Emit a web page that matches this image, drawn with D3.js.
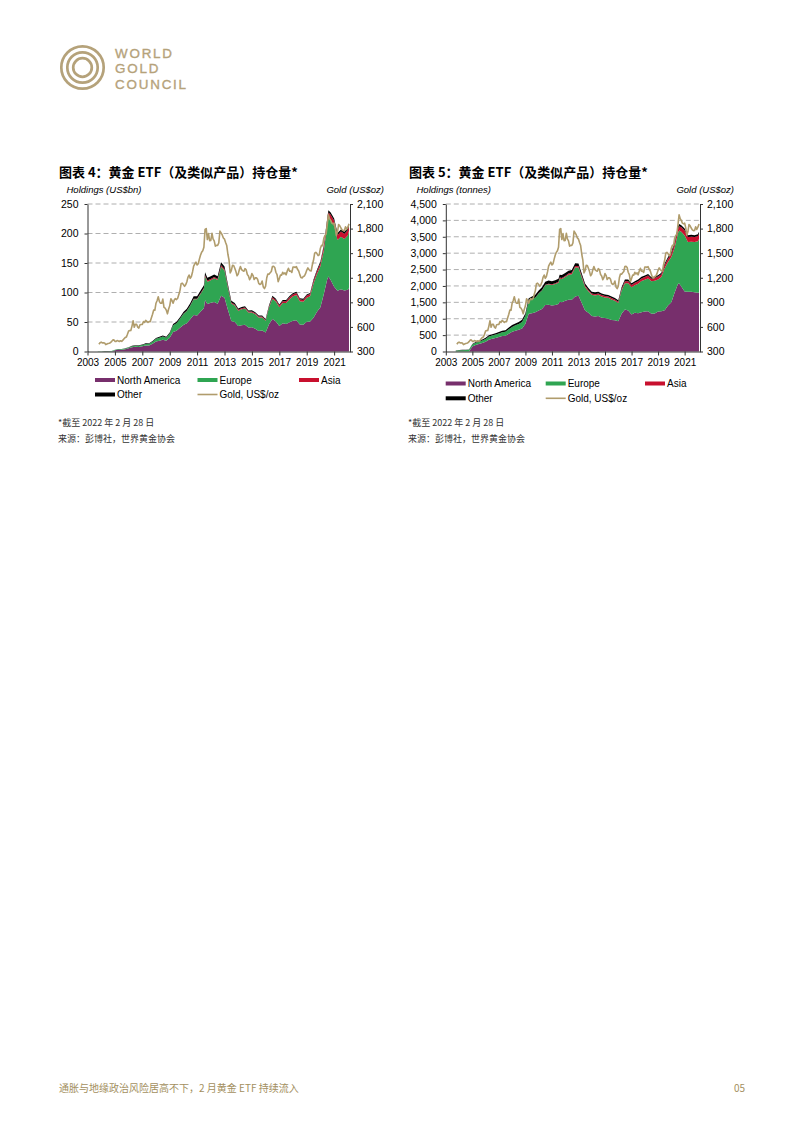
<!DOCTYPE html>
<html>
<head>
<meta charset="utf-8">
<script src="https://cdnjs.cloudflare.com/ajax/libs/d3/7.8.5/d3.min.js"></script>
<style>
  body { margin: 0; background: #fff; }
  svg { display: block; }
</style>
</head>
<body>
<svg width="802" height="1133"></svg>
<script>
// ---- data ----
const qDates = ['2003-10','2004-01','2004-04','2004-07','2004-10','2005-01','2005-04','2005-07','2005-10',
  '2006-01','2006-04','2006-07','2006-10','2007-01','2007-04','2007-07','2007-10','2008-01','2008-04','2008-07','2008-10',
  '2009-01','2009-04','2009-07','2009-10','2010-01','2010-04','2010-07','2010-10','2011-01','2011-04','2011-07','2011-08','2011-10',
  '2012-01','2012-04','2012-07','2012-10','2013-01','2013-04','2013-07','2013-10','2014-01','2014-04','2014-07','2014-10',
  '2015-01','2015-04','2015-07','2015-10','2016-01','2016-04','2016-07','2016-10','2017-01','2017-04','2017-07','2017-10',
  '2018-01','2018-04','2018-07','2018-10','2019-01','2019-04','2019-07','2019-10','2020-01','2020-04','2020-07','2020-08','2020-10',
  '2021-01','2021-04','2021-07','2021-10','2022-01','2022-02'];

// holdings, tonnes
const naTonnes = [0,0,0,0,0,150,200,230,260,300,360,390,410,440,470,480,540,600,630,660,700,
  850,1150,1170,1200,1250,1300,1420,1430,1400,1420,1450,1520,1500,1550,1580,1580,1680,1700,1480,1250,1180,
  1080,1070,1080,1030,1020,1000,960,950,920,1150,1280,1250,1130,1180,1170,1200,1220,1230,1150,1160,
  1220,1230,1260,1400,1500,1800,2060,2080,1980,1830,1820,1820,1810,1790,1800];
const euTonnes = [25,35,40,45,50,60,65,70,75,85,95,100,105,110,120,125,140,150,170,180,200,
  250,400,430,450,520,560,600,620,630,640,650,700,710,720,760,780,880,860,780,720,660,
  650,640,650,650,630,640,630,600,560,710,800,830,830,840,900,950,970,1000,990,1000,
  980,1040,1280,1330,1380,1370,1550,1610,1670,1710,1520,1530,1530,1575,1630];
const asiaTonnes = [0,0,0,0,0,0,0,0,0,0,0,0,0,0,0,0,0,0,0,0,0,
  0,0,0,0,5,10,15,20,20,25,30,35,35,35,40,40,45,45,45,40,40,
  40,40,40,40,40,40,40,40,40,50,60,65,70,75,75,80,80,85,80,80,
  85,85,95,100,105,115,130,135,140,150,150,150,150,155,160];
const otherTonnes = [5,8,10,10,12,20,25,25,30,35,40,40,40,45,45,45,50,55,55,60,65,
  70,75,80,80,85,90,95,95,95,90,90,90,90,90,85,85,85,80,75,65,60,
  55,55,50,50,50,45,45,45,45,50,55,55,50,50,50,50,50,50,45,45,
  45,45,50,50,55,60,65,65,65,65,60,60,60,60,60];

// holdings, US$bn
const naUsd = [0,0,0,0,0,2.0,2.8,3.1,3.9,5.3,7.1,7.9,7.7,8.9,10.3,10.3,13.1,17.1,18.4,19.9,18.1,
  23.4,32.9,35.1,40.2,44.9,48.0,54.5,61.7,61.0,67.3,73.3,87.0,80.3,82.5,83.8,81.0,94.4,91.3,70.8,51.7,49.9,
  43.2,44.7,45.5,40.5,41.0,38.5,34.9,35.4,32.4,46.0,55.0,50.9,43.3,48.0,46.5,49.4,52.2,52.8,45.8,45.3,
  50.6,50.8,57.2,67.3,75.2,97.3,122.3,127.0,121.0,109.9,103.0,105.7,103.4,104.6,107.4];
const euUsd = [0.3,0.47,0.52,0.58,0.68,0.8,0.9,0.95,1.1,1.5,1.9,2.0,2.0,2.2,2.6,2.7,3.4,4.3,5.0,5.4,5.2,
  6.9,11.4,12.9,15.1,18.7,20.7,23.0,26.8,27.5,30.3,32.9,40.1,38.0,38.3,40.3,40.0,49.4,46.2,37.3,29.8,27.9,
  26.0,26.7,27.4,25.5,25.3,24.7,22.9,22.4,19.8,28.4,34.4,33.8,31.8,34.2,35.8,39.1,41.5,42.9,39.4,39.1,
  40.7,43.0,58.2,63.9,69.2,74.0,92.0,100.0,102.0,102.7,86.0,88.9,87.4,92.0,97.3];
const asiaUsd = [0,0,0,0,0,0,0,0,0,0,0,0,0,0,0,0,0,0,0,0,0,
  0,0,0,0,0.2,0.4,0.6,0.9,0.9,1.2,1.5,2.0,1.9,1.9,2.1,2.0,2.5,2.4,2.2,1.7,1.7,
  1.6,1.7,1.7,1.6,1.6,1.5,1.5,1.5,1.4,2.0,2.6,2.6,2.7,3.1,3.0,3.3,3.4,3.6,3.2,3.1,
  3.5,3.5,4.3,4.8,5.3,6.2,7.7,8.5,8.6,9.0,8.5,8.7,8.6,9.1,9.5];
const otherUsd = [0.06,0.11,0.13,0.13,0.16,0.27,0.34,0.34,0.45,0.6,0.8,0.8,0.75,0.9,1.0,1.0,1.2,1.6,1.6,1.8,1.7,
  1.9,2.1,2.4,2.7,3.1,3.3,3.6,4.1,4.1,4.3,4.5,5.2,4.8,4.8,4.5,4.4,4.8,4.3,3.6,2.7,2.5,
  2.2,2.3,2.1,2.0,2.0,1.7,1.6,1.7,1.6,2.0,2.4,2.2,1.9,2.0,2.0,2.1,2.1,2.1,1.8,1.8,
  1.9,1.9,2.3,2.4,2.8,3.2,3.9,4.0,4.0,3.9,3.4,3.5,3.4,3.5,3.6];

// gold price, US$/oz, monthly from Nov 2003
const goldStart = '2003-11';
const goldPrice = [389,407,
  414,405,406,404,384,392,398,400,406,420,439,442,
  424,423,434,429,422,431,424,438,456,470,476,510,
  549,555,557,610,676,596,633,632,598,586,627,629,
  631,665,655,679,667,655,665,665,712,754,806,803,
  889,922,968,909,888,889,939,839,829,806,760,816,
  858,943,924,890,928,946,934,949,996,1043,1127,1134,
  1118,1095,1113,1148,1205,1233,1193,1215,1271,1343,1370,1391,
  1356,1372,1424,1474,1510,1529,1572,1790,1800,1666,1739,1652,
  1656,1743,1674,1650,1585,1596,1594,1626,1770,1747,1722,1685,
  1671,1628,1593,1487,1414,1260,1286,1351,1349,1316,1275,1225,
  1244,1300,1336,1299,1287,1279,1311,1296,1239,1222,1176,1201,
  1251,1227,1179,1198,1199,1181,1131,1117,1125,1159,1086,1068,
  1097,1200,1246,1243,1260,1276,1337,1341,1326,1267,1238,1152,
  1192,1234,1231,1266,1246,1260,1236,1283,1315,1280,1283,1265,
  1331,1331,1325,1335,1303,1282,1238,1202,1198,1215,1221,1250,
  1291,1320,1301,1286,1284,1359,1413,1500,1510,1495,1471,1480,
  1560,1597,1592,1681,1716,1732,1846,1968,1921,1900,1866,1858,
  1867,1808,1718,1760,1850,1834,1807,1785,1775,1777,1821,1790,
  1817,1856];

const yearLabels = [2003,2005,2007,2009,2011,2013,2015,2017,2019,2021];
const goldTicks = [300,600,900,1200,1500,1800,2100];
const seriesKeys = ['na','eu','asia','other'];
const seriesNames = ['North America','Europe','Asia','Other'];
const colors = {na:'#772f6c', eu:'#2fa552', asia:'#c8102e', other:'#000000', gold:'#b09c6c'};

// ---- setup ----
const svg = d3.select('svg');
const parse = d3.timeParse('%Y-%m');
const latin = '"Liberation Sans", Arial, sans-serif';
const cjk = '"Noto Sans CJK SC", sans-serif';
const goldStartDate = parse(goldStart);
const goldData = goldPrice.map((p,i) => ({date: d3.timeMonth.offset(goldStartDate, i), price: p}));

svg.append('rect').attr('width',802).attr('height',1133).attr('fill','#fff');

// logo
const logo = svg.append('g').attr('fill','none').attr('stroke','#b5a27a').attr('stroke-width',2.7);
[21.2,15.2,9.3].forEach(r => logo.append('circle').attr('cx',82.5).attr('cy',67.5).attr('r',r));
['WORLD','GOLD','COUNCIL'].forEach((t,i) => {
  svg.append('text').attr('x',115).attr('y',57.5+i*15.5).text(t)
    .attr('fill','#b5a27a').attr('stroke','#b5a27a').attr('stroke-width',0.35)
    .attr('font-family',latin).attr('font-size',13.4).attr('letter-spacing',1.8);
});

const panel = (cfg) => {
  const g = svg.append('g');
  const x = d3.scaleTime().domain([new Date(2003,0,1), new Date(2022,1,28)]).range([cfg.x0, cfg.x1]);
  const y = d3.scaleLinear().domain([0, cfg.leftMax]).range([cfg.yBot, cfg.yTop]);
  const yR = d3.scaleLinear().domain([300, 2100]).range([cfg.yBot, cfg.yTop]);

  // title + axis titles
  g.append('text').attr('x',cfg.titleX).attr('y',176.5).text(cfg.title)
    .attr('font-family',cjk).attr('font-weight',700).attr('font-size',13);
  g.append('text').attr('x',cfg.titleX+7.5).attr('y',192.5).text(cfg.yTitle)
    .attr('font-family',latin).attr('font-style','italic').attr('font-size',9.5);
  g.append('text').attr('x',cfg.x1+34).attr('y',192.5).attr('text-anchor','end').text('Gold (US$oz)')
    .attr('font-family',latin).attr('font-style','italic').attr('font-size',9.5);

  // gridlines
  const leftTicks = d3.range(0, cfg.leftMax + 1, cfg.leftStep);
  g.append('g').selectAll('line').data(leftTicks.filter(d => d > 0)).join('line')
    .attr('x1',cfg.x0).attr('x2',cfg.x1).attr('y1',d => y(d)).attr('y2',d => y(d))
    .attr('stroke','#9a9a9a').attr('stroke-width',0.8).attr('stroke-dasharray','5,3');

  // stacked areas
  const rows = qDates.map((d,i) => ({date: parse(d), na: cfg.na[i], eu: cfg.eu[i], asia: cfg.asia[i], other: cfg.other[i]}));
  const stacked = d3.stack().keys(seriesKeys)(rows);
  const area = d3.area().x(d => x(d.data.date)).y0(d => y(d[0])).y1(d => y(d[1]));
  g.append('g').selectAll('path').data(stacked).join('path')
    .attr('d', area).attr('fill', d => colors[d.key]);

  // gold line
  const line = d3.line().x(d => x(d.date)).y(d => yR(d.price));
  g.append('path').datum(goldData).attr('d', line)
    .attr('fill','none').attr('stroke',colors.gold).attr('stroke-width',1.6).attr('stroke-linejoin','round');

  // axes
  const axL = g.append('g').attr('transform',`translate(${cfg.x0},0)`)
    .call(d3.axisLeft(y).tickValues(leftTicks).tickSize(3).tickSizeOuter(0).tickPadding(6).tickFormat(d3.format(',')));
  const axR = g.append('g').attr('transform',`translate(${cfg.x1},0)`)
    .call(d3.axisRight(yR).tickValues(goldTicks).tickSize(3).tickSizeOuter(0).tickPadding(4).tickFormat(d3.format(',')));
  const axB = g.append('g').attr('transform',`translate(0,${cfg.yBot})`)
    .call(d3.axisBottom(x).tickValues(yearLabels.map(v => new Date(v,0,1))).tickSize(4).tickSizeOuter(0).tickPadding(3)
      .tickFormat(d3.timeFormat('%Y')));
  [axL, axR, axB].forEach(a => {
    a.selectAll('text').attr('font-family',latin).attr('font-size',10.5).attr('fill','#000');
    a.selectAll('line,path').attr('stroke','#333');
  });
  axB.selectAll('text').attr('font-size',10);

  // legend
  cfg.legend.forEach((it,i) => {
    const lx = cfg.legX[i % 3], ly = cfg.legY[Math.floor(i / 3)];
    if (it.key === 'gold') {
      g.append('line').attr('x1',lx).attr('x2',lx+20).attr('y1',ly).attr('y2',ly)
        .attr('stroke',colors.gold).attr('stroke-width',1.6);
    } else {
      g.append('rect').attr('x',lx).attr('y',ly-2).attr('width',20).attr('height',4).attr('fill',colors[it.key]);
    }
    g.append('text').attr('x',lx+22).attr('y',ly+3.6).text(it.label)
      .attr('font-family',latin).attr('font-size',10);
  });

  // notes
  g.append('text').attr('x',cfg.titleX-1).attr('y',426).text('*截至 2022 年 2 月 28 日')
    .attr('font-family',cjk).attr('font-size',9).attr('fill','#333');
  g.append('text').attr('x',cfg.titleX-1).attr('y',441.5).text('来源：彭博社，世界黄金协会')
    .attr('font-family',cjk).attr('font-size',9).attr('fill','#333');
};

const legendItems = [
  {key:'na', label: seriesNames[0]}, {key:'eu', label: seriesNames[1]}, {key:'asia', label: seriesNames[2]},
  {key:'other', label: seriesNames[3]}, {key:'gold', label:'Gold, US$/oz'}
];

panel({
  x0: 87.5, x1: 350, yTop: 204, yBot: 351.5, titleX: 59,
  title: '图表 4：黄金 ETF（及类似产品）持仓量*', yTitle: 'Holdings (US$bn)',
  leftMax: 250, leftStep: 50,
  na: naUsd, eu: euUsd, asia: asiaUsd, other: otherUsd,
  legend: legendItems, legX: [95, 197.5, 299], legY: [380, 394.5]
});

panel({
  x0: 445.8, x1: 700, yTop: 204, yBot: 351.5, titleX: 409,
  title: '图表 5：黄金 ETF（及类似产品）持仓量*', yTitle: 'Holdings (tonnes)',
  leftMax: 4500, leftStep: 500,
  na: naTonnes, eu: euTonnes, asia: asiaTonnes, other: otherTonnes,
  legend: legendItems, legX: [445.7, 545.7, 645], legY: [383.5, 398.3]
});

// footer
svg.append('text').attr('x',59).attr('y',1091.5).text('通胀与地缘政治风险居高不下，2 月黄金 ETF 持续流入')
  .attr('font-family',cjk).attr('font-size',10).attr('fill','#a38f5e');
svg.append('text').attr('x',745).attr('y',1091.5).attr('text-anchor','end').text('05')
  .attr('font-family',cjk).attr('font-size',10).attr('fill','#a38f5e');
</script>
</body>
</html>
